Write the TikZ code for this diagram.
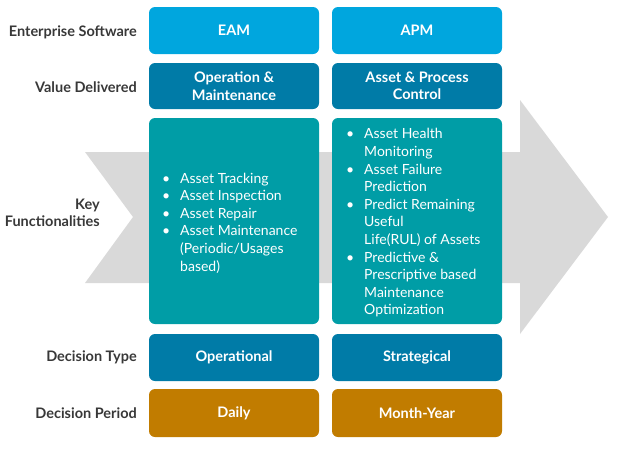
\documentclass[tikz,border=0pt]{standalone}
\usepackage{fontspec}
\setmainfont{Lato}
\definecolor{swblue}{HTML}{00A6DE}
\definecolor{valblue}{HTML}{007BA7}
\definecolor{keyteal}{HTML}{009DA6}
\definecolor{perochre}{HTML}{C17C00}
\definecolor{arrgray}{HTML}{D9D9D9}
\definecolor{lbl}{HTML}{383838}
\newcommand{\bul}{\makebox[18pt][l]{\textbullet}}
\newcommand{\ind}{\hspace*{18pt}}
\tikzset{
  cell/.style={rounded corners=6pt, text=white, font=\bfseries\fontsize{14.5}{17.5}\selectfont, align=center, minimum width=170pt, inner sep=0pt},
  rowlabel/.style={text=lbl, font=\bfseries\fontsize{14.5}{17.5}\selectfont, anchor=east, align=right, inner sep=0pt},
  listtext/.style={text=white, font=\fontsize{14}{17.6}\selectfont, align=left, anchor=west, inner sep=0pt}
}
\begin{document}
\begin{tikzpicture}[x=1pt,y=-1pt]
\useasboundingbox (0,0) rectangle (618,448);
\fill[arrgray] (85,152) -- (520,152) -- (520,100) -- (608,217) -- (520,334) -- (520,283) -- (85,283) -- (133,217) -- cycle;

% row labels
\node[rowlabel] (l1) at (137,32) {Enterprise Software};
\node[rowlabel] (l2) at (137,87) {Value Delivered};
\node[rowlabel] (l3) at (100,213) {Key\\Functionalities};
\node[rowlabel] (l4) at (137,357) {Decision Type};
\node[rowlabel] (l5) at (137,413) {Decision Period};

% row 1
\node[cell, fill=swblue, minimum height=47pt] (eam) at (234,30.5) {EAM};
\node[cell, fill=swblue, minimum height=47pt] (apm) at (417,30.5) {APM};
% row 2
\node[cell, fill=valblue, minimum height=46pt] (om) at (234,86) {Operation \&\\Maintenance};
\node[cell, fill=valblue, minimum height=46pt] (apc) at (417,86) {Asset \& Process\\Control};
% row 3
\node[cell, fill=keyteal, minimum height=206pt] (kf1) at (234,221) {};
\node[cell, fill=keyteal, minimum height=206pt] (kf2) at (417,221) {};
\node[listtext] (kf1t) at (162,223) {\bul Asset Tracking\\ \bul Asset Inspection\\ \bul Asset Repair\\ \bul Asset Maintenance\\ \ind (Periodic/Usages\\ \ind based)};
\node[listtext] (kf2t) at (346,223) {\bul Asset Health\\ \ind Monitoring\\ \bul Asset Failure\\ \ind Prediction\\ \bul Predict Remaining\\ \ind Useful\\ \ind Life(RUL) of Assets\\ \bul Predictive \&\\ \ind Prescriptive based\\ \ind Maintenance\\ \ind Optimization};
% row 4
\node[cell, fill=valblue, minimum height=47pt] (op) at (234,357.5) {Operational};
\node[cell, fill=valblue, minimum height=47pt] (st) at (417,357.5) {Strategical};
% row 5
\node[cell, fill=perochre, minimum height=48pt] (da) at (234,413) {Daily};
\node[cell, fill=perochre, minimum height=48pt] (my) at (417,413) {Month-Year};
\end{tikzpicture}
\end{document}
